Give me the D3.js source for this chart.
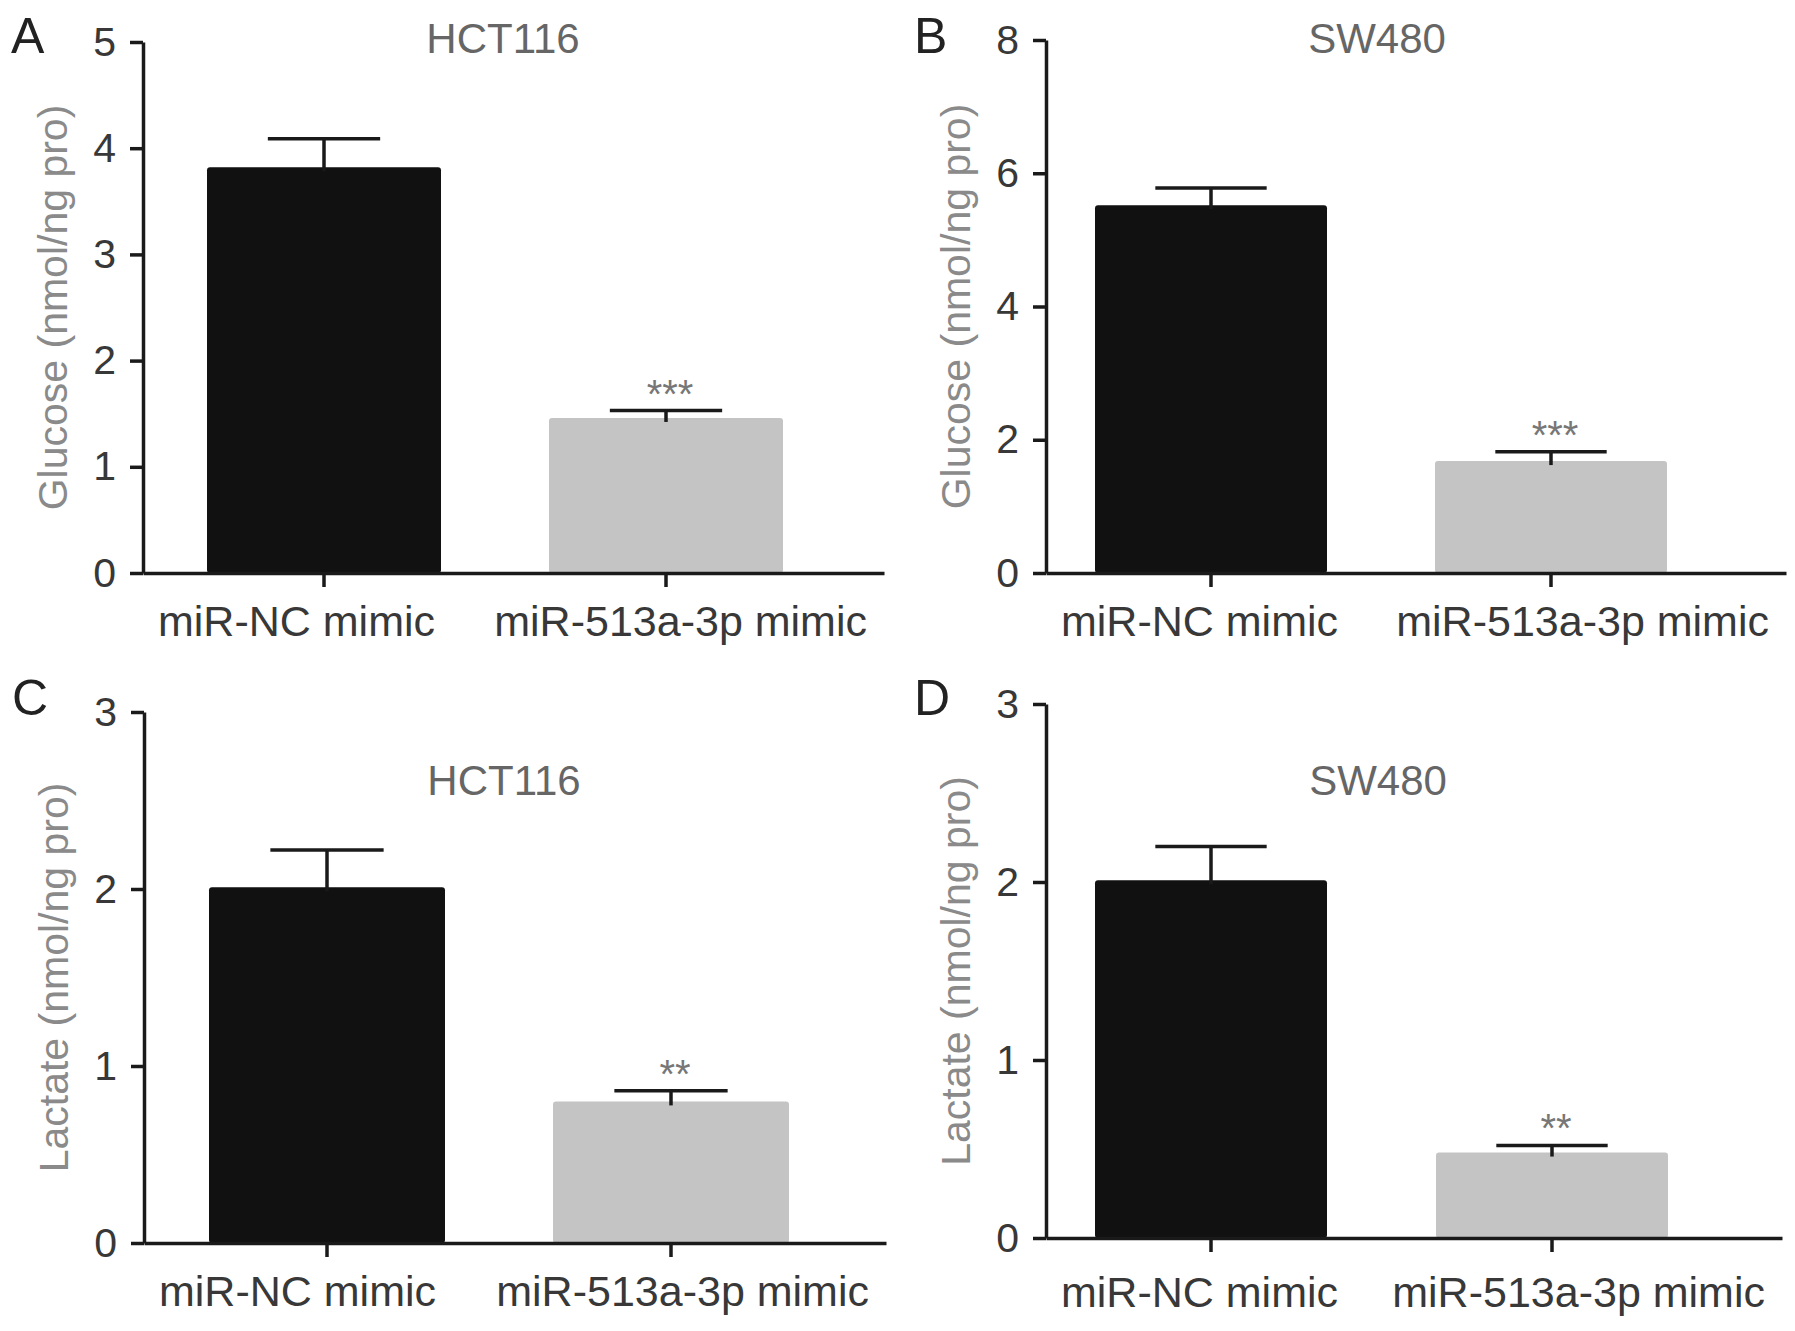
<!DOCTYPE html>
<html>
<head>
<meta charset="utf-8">
<script src="https://cdn.jsdelivr.net/npm/d3@7"></script>
<style>
  body { margin: 0; background: #fff; }
  svg { display: block; font-family: "Liberation Sans", Arial, sans-serif; }
</style>
</head>
<body>
<svg id="fig"></svg>
<script>
// --- data ---
const categories = ["miR-NC mimic", "miR-513a-3p mimic"];
const panelLetters = ["A", "B", "C", "D"];
const cellLines = ["HCT116", "SW480", "HCT116", "SW480"];
const yLabels = ["Glucose (nmol/ng pro)", "Glucose (nmol/ng pro)", "Lactate (nmol/ng pro)", "Lactate (nmol/ng pro)"];

const glucoseHCT116 = [3.82, 1.46];
const glucoseHCT116Sem = [0.27, 0.07];
const glucoseSW480 = [5.52, 1.68];
const glucoseSW480Sem = [0.26, 0.14];
const lactateHCT116 = [2.01, 0.80];
const lactateHCT116Sem = [0.21, 0.06];
const lactateSW480 = [2.01, 0.48];
const lactateSW480Sem = [0.19, 0.04];

const yTicksA = [0, 1, 2, 3, 4, 5];
const yTicksB = [0, 2, 4, 6, 8];
const yTicksC = [0, 1, 2, 3];
const yTicksD = [0, 1, 2, 3];

const significance = ["***", "***", "**", "**"];

const barColors = ["#111111", "#c4c4c4"];

// --- layout of the four panels (pixels) ---
const layout = [
    { x0: 143, x1: 884, yTop: 42, yBot: 573, gap: 64, step: 342, bw: 234, titleX: 503, titleY: 53, letterY: 53, labelPad: 18 },
    { x0: 1046, x1: 1786, yTop: 40, yBot: 573, gap: 49, step: 340, bw: 232, titleX: 1377, titleY: 53, letterY: 53, labelPad: 18 },
    { x0: 144, x1: 886, yTop: 712, yBot: 1243, gap: 65, step: 344, bw: 236, titleX: 504, titleY: 795, letterY: 715, labelPad: 18 },
    { x0: 1046, x1: 1782, yTop: 704, yBot: 1238, gap: 49, step: 341, bw: 232, titleX: 1378, titleY: 795, letterY: 715, labelPad: 24 }
];

const means = [glucoseHCT116, glucoseSW480, lactateHCT116, lactateSW480];
const sems = [glucoseHCT116Sem, glucoseSW480Sem, lactateHCT116Sem, lactateSW480Sem];
const yTicks = [yTicksA, yTicksB, yTicksC, yTicksD];

const svg = d3.select("#fig")
    .attr("width", 1795)
    .attr("height", 1331);

svg.append("rect")
    .attr("width", 1795)
    .attr("height", 1331)
    .attr("fill", "#fff");

layout.forEach((L, i) => {
    const g = svg.append("g");
    const W = L.x1 - L.x0;
    const pInner = 1 - L.bw / L.step;
    const pOuter = (W / L.step - (categories.length - pInner)) / 2;
    const align = L.gap / (W - L.step * (categories.length - pInner));

    const x = d3.scaleBand()
        .domain(categories)
        .range([L.x0, L.x1])
        .paddingInner(pInner)
        .paddingOuter(pOuter)
        .align(align);

    const ticks = yTicks[i];
    const y = d3.scaleLinear()
        .domain([0, d3.max(ticks)])
        .range([L.yBot, L.yTop]);

    const rows = categories.map((c, j) => ({ cat: c, mean: means[i][j], sem: sems[i][j], color: barColors[j] }));

    // bars
    g.selectAll(".bar")
        .data(rows)
        .join("rect")
        .attr("class", "bar")
        .attr("x", d => x(d.cat))
        .attr("y", d => y(d.mean))
        .attr("width", x.bandwidth())
        .attr("height", d => y(0) - y(d.mean))
        .attr("rx", 3)
        .attr("fill", d => d.color);

    // error bars (upper only)
    const capW = x.bandwidth() * 0.48;
    const err = g.selectAll(".err")
        .data(rows)
        .join("g")
        .attr("class", "err")
        .attr("stroke", "#1a1a1a")
        .attr("stroke-width", 3.5);
    err.append("line")
        .attr("x1", d => x(d.cat) + x.bandwidth() / 2)
        .attr("x2", d => x(d.cat) + x.bandwidth() / 2)
        .attr("y1", d => y(d.mean) + 4)
        .attr("y2", d => y(d.mean + d.sem));
    err.append("line")
        .attr("x1", d => x(d.cat) + x.bandwidth() / 2 - capW / 2)
        .attr("x2", d => x(d.cat) + x.bandwidth() / 2 + capW / 2)
        .attr("y1", d => y(d.mean + d.sem))
        .attr("y2", d => y(d.mean + d.sem));

    // significance stars on the second bar
    g.append("text")
        .attr("x", x(categories[1]) + x.bandwidth() / 2 + 4)
        .attr("y", y(rows[1].mean + rows[1].sem) - 3)
        .attr("text-anchor", "middle")
        .attr("font-size", 40)
        .attr("fill", "#777")
        .text(significance[i]);

    // axes
    const yAxis = d3.axisLeft(y)
        .tickValues(ticks)
        .tickFormat(d3.format("d"))
        .tickSize(13)
        .tickSizeOuter(0)
        .tickPadding(14);
    const yg = g.append("g")
        .attr("transform", `translate(${L.x0},0)`)
        .call(yAxis);

    const xAxis = d3.axisBottom(x)
        .tickSize(14)
        .tickSizeOuter(0)
        .tickPadding(L.labelPad);
    const xg = g.append("g")
        .attr("transform", `translate(0,${L.yBot})`)
        .call(xAxis);

    [yg, xg].forEach(ax => {
        ax.select(".domain").attr("stroke", "#1a1a1a").attr("stroke-width", 3.5);
        ax.selectAll(".tick line").attr("stroke", "#1a1a1a").attr("stroke-width", 3.5);
        ax.selectAll(".tick text")
            .attr("fill", "#383838")
            .attr("font-family", "\"Liberation Sans\", Arial, sans-serif");
    });
    yg.selectAll(".tick text").attr("font-size", 41);
    xg.selectAll(".tick text")
        .attr("font-size", 43)
        .attr("dy", "0.72em")
        .attr("text-anchor", (d, j) => j === 0 ? "start" : "end")
        .attr("x", (d, j) => {
            const c = x(d) + x.bandwidth() / 2;
            return j === 0 ? (L.x0 + 15) - c : (L.x1 - 17) - c;
        });

    // y label
    g.append("text")
        .attr("transform", `translate(${L.x0 - 76},${(L.yTop + L.yBot) / 2}) rotate(-90)`)
        .attr("text-anchor", "middle")
        .attr("font-size", 41)
        .attr("fill", "#8a8a8a")
        .text(yLabels[i]);

    // title
    g.append("text")
        .attr("x", L.titleX)
        .attr("y", L.titleY)
        .attr("text-anchor", "middle")
        .attr("font-size", 42)
        .attr("fill", "#666")
        .text(cellLines[i]);

    // panel letter
    g.append("text")
        .attr("x", L.x0 - 132)
        .attr("y", L.letterY)
        .attr("font-size", 50)
        .attr("fill", "#222")
        .text(panelLetters[i]);
});
</script>
</body>
</html>
